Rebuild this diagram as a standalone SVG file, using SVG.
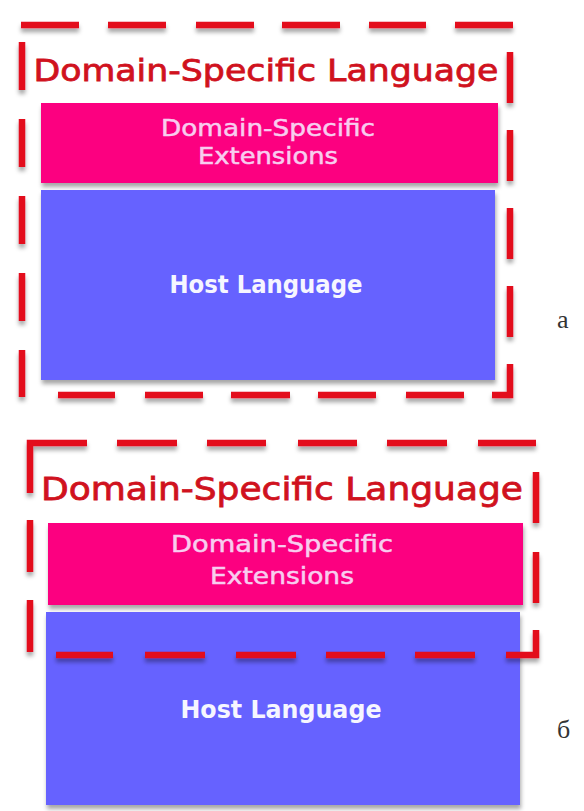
<svg xmlns="http://www.w3.org/2000/svg" width="584" height="811" viewBox="0 0 584 811">
  <defs>
    <filter id="shadow" x="-10%" y="-10%" width="130%" height="140%">
      <feDropShadow dx="1" dy="4" stdDeviation="2" flood-color="#000" flood-opacity="0.35"/>
    </filter>
    <filter id="dshadow" x="-10%" y="-10%" width="130%" height="130%">
      <feDropShadow dx="0" dy="4" stdDeviation="2" flood-color="#000" flood-opacity="0.35"/>
    </filter>
  </defs>
  <style>
    .frame { fill: none; stroke: #e3101c; stroke-width: 6.5; stroke-linecap: butt; stroke-linejoin: miter; filter: url(#dshadow); }
    .title { font-family: "DejaVu Sans", "Liberation Sans", sans-serif; fill: #d0121e; stroke: #d0121e; stroke-width: 0.8; text-anchor: middle; }
    .ext { fill: #fc0080; filter: url(#shadow); }
    .host { fill: #6662ff; filter: url(#shadow); }
    .extText { font-family: "DejaVu Sans", "Liberation Sans", sans-serif; fill: #f8cdef; stroke: #f8cdef; stroke-width: 0.5; text-anchor: middle; font-size: 23px; }
    .hostText { font-family: "DejaVu Sans", "Liberation Sans", sans-serif; fill: #f6f6ff; text-anchor: middle; font-size: 24px; font-weight: bold; }
    .label { font-family: "Liberation Serif", "DejaVu Serif", serif; fill: #333; font-size: 26px; }
  </style>
  <rect width="584" height="811" fill="#ffffff"/>

  <!-- Diagram a -->
  <g id="a-ext">
    <rect class="ext" x="41" y="103" width="457" height="80"/>
    <text class="extText" x="268" y="136" textLength="214" lengthAdjust="spacingAndGlyphs">Domain-Specific</text>
    <text class="extText" x="268" y="164" textLength="140" lengthAdjust="spacingAndGlyphs">Extensions</text>
  </g>
  <g id="a-host">
    <rect class="host" x="41" y="190" width="454" height="190"/>
    <text class="hostText" x="266" y="293" textLength="193" lengthAdjust="spacingAndGlyphs">Host Language</text>
  </g>
  <g id="a-dsl">
    <text class="title" x="266" y="81" font-size="31" textLength="465" lengthAdjust="spacingAndGlyphs">Domain-Specific Language</text>
    <path class="frame" d="M21 25 H79 M108 25 H166 M196 25 H254 M282 25 H340 M369 25 H426 M455 25 H513
      M22 42 V90 M22 119 V167 M22 196 V244 M22 273 V321 M22 350 V397
      M510 52 V103 M510 130 V181 M510 208 V259 M510 286 V337 M510 364 V395 H492
      M58 395 H115 M145 395 H203 M231 395 H290 M318 395 H376 M406 395 H464"/>
  </g>
  <g id="label-a">
    <text class="label" x="557" y="328">a</text>
  </g>

  <!-- Diagram b -->
  <g id="b-ext">
    <rect class="ext" x="48" y="523" width="475" height="82"/>
    <text class="extText" x="282" y="552" textLength="222" lengthAdjust="spacingAndGlyphs">Domain-Specific</text>
    <text class="extText" x="282" y="584" textLength="144" lengthAdjust="spacingAndGlyphs">Extensions</text>
  </g>
  <g id="b-host">
    <rect class="host" x="46" y="612" width="474" height="193"/>
    <text class="hostText" x="281" y="718" textLength="201" lengthAdjust="spacingAndGlyphs">Host Language</text>
  </g>
  <g id="b-dsl">
    <text class="title" x="282" y="500" font-size="32" textLength="482" lengthAdjust="spacingAndGlyphs">Domain-Specific Language</text>
    <path class="frame" d="M30 493 V443 H87 M117 443 H177 M207 443 H266 M298 443 H357 M387 443 H447 M478 443 H536
      M30 520 V572 M30 600 V652
      M536 472 V523 M536 552 V603 M536 630 V655 H506
      M56 655 H113 M145 655 H205 M236 655 H296 M326 655 H385 M415 655 H475"/>
  </g>
  <g id="label-b">
    <text class="label" x="557" y="738">б</text>
  </g>
</svg>
